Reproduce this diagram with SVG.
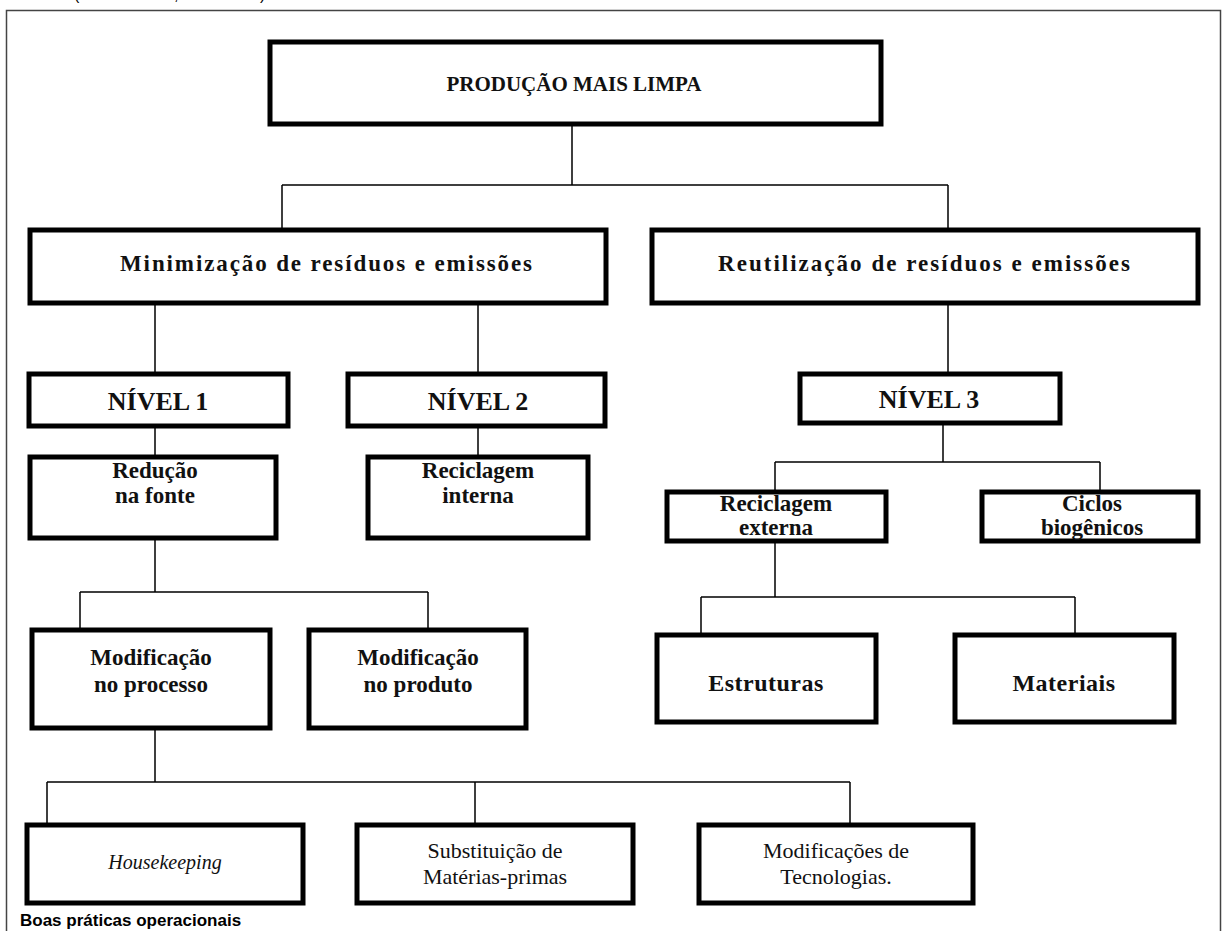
<svg xmlns="http://www.w3.org/2000/svg" width="1223" height="931" viewBox="0 0 1223 931">
<style>
.box{fill:#fff;stroke:#000;stroke-width:5}
.con{fill:none;stroke:#000;stroke-width:1.5}
.t{font-family:"Liberation Serif","Times New Roman",serif;font-weight:bold;font-size:23px;fill:#111;text-anchor:middle}
.r{font-weight:normal;font-size:22px}
.i{font-style:italic;font-weight:normal;font-size:20px}
.big{font-size:26px}
.one{font-size:24px;letter-spacing:0.5px}
.top{font-size:21px}
.note{font-family:"Liberation Sans",Arial,sans-serif;font-weight:bold;font-size:17px;fill:#000}
</style>
<rect width="1223" height="931" fill="#fff"/>
<text class="note" y="0" style="font-weight:normal;font-size:16px"><tspan x="74">(</tspan><tspan x="174">,</tspan><tspan x="260">)</tspan></text>
<rect x="6.5" y="10.5" width="1214" height="940" fill="none" stroke="#444" stroke-width="1.5"/>
<g id="connectors">
<path class="con" d="M572 125V185M282 185H948M282 185V228M948 185V228"/>
<path class="con" d="M155 305V372M478 305V372M948 305V372"/>
<path class="con" d="M155 428V455M478 428V455"/>
<path class="con" d="M943 425V462M775 462H1100M775 462V490M1100 462V490"/>
<path class="con" d="M155 540V592M80 592H428M80 592V628M428 592V628"/>
<path class="con" d="M775 543V597M701 597H1075M701 597V633M1075 597V633"/>
<path class="con" d="M155 730V782M47 782H850M47 782V823M475 782V823M850 782V823"/>
</g>
<g id="n-producao"><rect class="box" x="270" y="42" width="611" height="82"/><text class="t top" x="574" y="91">PRODUÇÃO MAIS LIMPA</text></g>
<g id="n-minimizacao"><rect class="box" x="30" y="230" width="576" height="73"/><text class="t" x="326" y="271" textLength="412" lengthAdjust="spacing">Minimização de resíduos e emissões</text></g>
<g id="n-reutilizacao"><rect class="box" x="652" y="230" width="546" height="73"/><text class="t" x="924" y="271" textLength="412" lengthAdjust="spacing">Reutilização de resíduos e emissões</text></g>
<g id="n-nivel1"><rect class="box" x="29" y="374" width="259" height="52"/><text class="t big" x="158" y="410">NÍVEL 1</text></g>
<g id="n-nivel2"><rect class="box" x="348" y="374" width="257" height="52"/><text class="t big" x="478" y="410">NÍVEL 2</text></g>
<g id="n-nivel3"><rect class="box" x="800" y="374" width="260" height="49"/><text class="t big" x="929" y="408">NÍVEL 3</text></g>
<g id="n-reducao"><rect class="box" x="30" y="457" width="246" height="81"/><text class="t" x="155" y="478">Redução</text><text class="t" x="155" y="503">na fonte</text></g>
<g id="n-recint"><rect class="box" x="368" y="457" width="220" height="81"/><text class="t" x="478" y="478">Reciclagem</text><text class="t" x="478" y="503">interna</text></g>
<g id="n-recext"><rect class="box" x="667" y="492" width="219" height="49"/><text class="t" x="776" y="511">Reciclagem</text><text class="t" x="776" y="535">externa</text></g>
<g id="n-ciclos"><rect class="box" x="982" y="492" width="216" height="49"/><text class="t" x="1092" y="511">Ciclos</text><text class="t" x="1092" y="535">biogênicos</text></g>
<g id="n-modproc"><rect class="box" x="32" y="630" width="238" height="98"/><text class="t" x="151" y="665">Modificação</text><text class="t" x="151" y="692">no processo</text></g>
<g id="n-modprod"><rect class="box" x="309" y="630" width="217" height="98"/><text class="t" x="418" y="665">Modificação</text><text class="t" x="418" y="692">no produto</text></g>
<g id="n-estruturas"><rect class="box" x="657" y="635" width="219" height="87"/><text class="t one" x="766" y="691">Estruturas</text></g>
<g id="n-materiais"><rect class="box" x="955" y="635" width="219" height="87"/><text class="t one" x="1064" y="691">Materiais</text></g>
<g id="n-housekeeping"><rect class="box" x="27" y="825" width="276" height="78"/><text class="t i" x="165" y="869">Housekeeping</text></g>
<g id="n-substituicao"><rect class="box" x="357" y="825" width="276" height="78"/><text class="t r" x="495" y="858">Substituição de</text><text class="t r" x="495" y="884">Matérias-primas</text></g>
<g id="n-tecnologias"><rect class="box" x="699" y="825" width="274" height="78"/><text class="t r" x="836" y="858">Modificações de</text><text class="t r" x="836" y="884">Tecnologias.</text></g>
<text class="note" x="20" y="926">Boas práticas operacionais</text>
</svg>
